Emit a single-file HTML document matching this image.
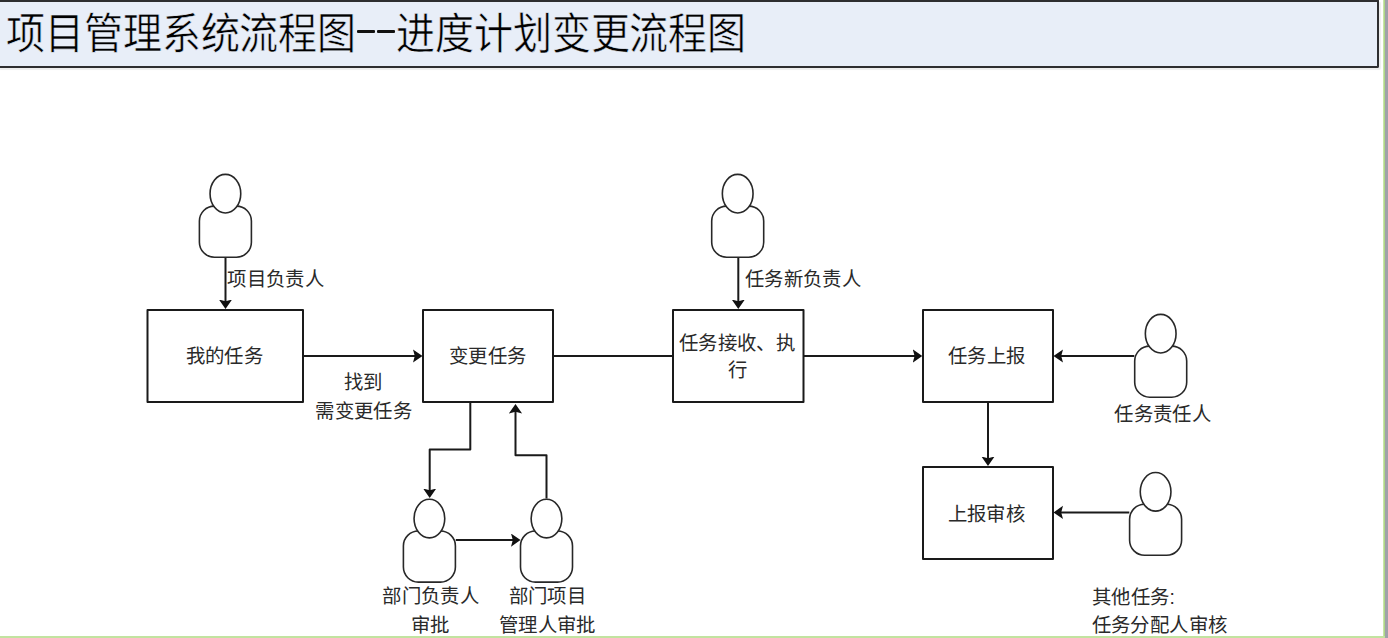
<!DOCTYPE html>
<html lang="zh-CN">
<head>
<meta charset="utf-8">
<style>
html,body{margin:0;padding:0;background:#fff;}
body{width:1388px;height:638px;overflow:hidden;position:relative;font-family:"Liberation Sans",sans-serif;}
#hdr{position:absolute;left:-2px;top:0;width:1379px;height:64px;background:#e8eef8;border-top:2px solid #2e2e30;border-bottom:2px solid #2e2e30;border-right:2px solid #2e2e30;box-sizing:content-box;border-bottom-right-radius:2px;border-top-right-radius:1px;box-shadow:2px 2px 1px rgba(0,0,0,0.07);}
.title{position:absolute;top:4px;-webkit-text-stroke:0.5px #e8eef8;font-family:"Liberation Serif",serif;font-size:39px;line-height:56px;color:#000;white-space:nowrap;letter-spacing:-0.1px;transform:scaleY(1.1);transform-origin:0 0;}
.dash{position:absolute;top:30.4px;width:17.6px;height:2.2px;border-radius:1px;background:#111;}
#redge{position:absolute;left:1383px;top:0;width:2px;height:638px;background:linear-gradient(to right,#d3ecb8,#a3cf76);}
#rgray{position:absolute;left:1385px;top:0;width:3px;height:638px;background:#9fa2a9;}
#bedge{position:absolute;left:0;top:636px;width:1385px;height:2px;background:#c2e3a0;}
svg{position:absolute;left:0;top:0;}
.t{font-family:"Liberation Sans",sans-serif;font-size:19.4px;letter-spacing:0.35px;fill:#2a2a2a;}
</style>
</head>
<body>
<div id="hdr"></div>
<div class="title" style="left:6px">项目管理系统流程图</div><div class="dash" style="left:357px"></div><div class="dash" style="left:377.3px"></div><div class="title" style="left:396px">进度计划变更流程图</div>
<svg width="1388" height="638" viewBox="0 0 1388 638">
<defs>
<marker id="ah" viewBox="0 0 10 14" refX="5.5" refY="6.6" markerWidth="10" markerHeight="14" markerUnits="userSpaceOnUse" orient="auto">
<path d="M0,0 L9.5,6.6 L0,13.2 L1.8,6.6 Z" fill="#111"/>
</marker>
<g id="person">
<rect x="0.4" y="32.5" width="52" height="51.1" rx="15" ry="15" fill="#fff" stroke="#282828" stroke-width="1.6"/>
<ellipse cx="26.4" cy="20.1" rx="15.35" ry="19.3" fill="#fff" stroke="#282828" stroke-width="1.6"/>
</g>
</defs>
<g fill="none" stroke="#1a1a1a" stroke-width="2" stroke-linejoin="round">
<!-- boxes -->
<rect x="147.5" y="310" width="155.5" height="92"/>
<rect x="423" y="310" width="130" height="92"/>
<rect x="673" y="310" width="130.5" height="92"/>
<rect x="923" y="310" width="130" height="92"/>
<rect x="923" y="467" width="130" height="92"/>
<!-- arrows -->
<path d="M225.5,258 V305" marker-end="url(#ah)"/>
<path d="M303,356 H418.5" marker-end="url(#ah)"/>
<path d="M553,356 H673"/>
<path d="M738.3,258 V305" marker-end="url(#ah)"/>
<path d="M803.5,356 H918.3" marker-end="url(#ah)"/>
<path d="M1134.3,356 H1057.5" marker-end="url(#ah)"/>
<path d="M988,402 V462" marker-end="url(#ah)"/>
<path d="M1129.3,512.4 H1057.5" marker-end="url(#ah)"/>
<path d="M470.3,402 V449.4 H429.7 V494" marker-end="url(#ah)"/>
<path d="M455.8,540.1 H516.5" marker-end="url(#ah)"/>
<path d="M546.5,498.5 V455.3 H515.5 V408" marker-end="url(#ah)"/>
</g>
<use href="#person" x="199" y="173.6"/>
<use href="#person" x="711.3" y="173.6"/>
<use href="#person" x="1134.3" y="313.6"/>
<use href="#person" x="1129.2" y="471.7"/>
<use href="#person" x="403" y="498.5"/>
<use href="#person" x="520.1" y="498.5"/>
<g class="t">
<text x="227.2" y="286.1">项目负责人</text>
<text x="185.7" y="363.0">我的任务</text>
<text x="343.6" y="389.0">找到</text>
<text x="315.4" y="417.5">需变更任务</text>
<text x="449.0" y="363.0">变更任务</text>
<text x="679.0" y="349.5">任务接收、执</text>
<text x="727.5" y="376.9">行</text>
<text x="745.0" y="286.1">任务新负责人</text>
<text x="948.0" y="362.5">任务上报</text>
<text x="1114.2" y="421.0">任务责任人</text>
<text x="947.5" y="521.0">上报审核</text>
<text x="1092.0" y="604.1">其他任务:</text>
<text x="1091.8" y="632.0">任务分配人审核</text>
<text x="382.2" y="602.5">部门负责人</text>
<text x="410.5" y="631.5">审批</text>
<text x="508.5" y="602.5">部门项目</text>
<text x="499.0" y="631.5">管理人审批</text>
</g>
</svg>
<div id="redge"></div><div id="rgray"></div><div id="bedge"></div>
</body>
</html>
